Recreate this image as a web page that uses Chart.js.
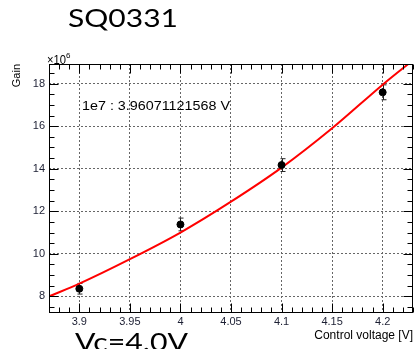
<!DOCTYPE html>
<html>
<head>
<meta charset="utf-8">
<script src="https://cdn.jsdelivr.net/npm/chart.js@4.4.0/dist/chart.umd.min.js"></script>
<style>
  html, body { margin: 0; padding: 0; background: #fff; }
  #wrap { position: relative; width: 418px; height: 349px; }
</style>
</head>
<body>
<div id="wrap"><canvas id="chart"></canvas></div>
<script>
// measured gain (units of 1e6) vs control voltage
var voltages = [3.9, 4.0, 4.1, 4.2];
var gains = [8.36, 11.38, 14.17, 17.59];
var gainErrors = [0.25, 0.3, 0.3, 0.35];

// fitted curve
var fitVoltages = [3.87, 3.9, 3.95, 4.0, 4.05, 4.1, 4.15, 4.2, 4.23];
var fitGains = [8.0, 8.6, 9.75, 11.0, 12.45, 14.05, 15.9, 17.95, 19.1];

var xTicks = [3.9, 3.95, 4, 4.05, 4.1, 4.15, 4.2];
var yTicks = [8, 10, 12, 14, 16, 18];

var labelColor = '#1c1f33';
var rootFont = '"Liberation Sans", Arial, sans-serif';

// draw text squeezed/stretched to a given width (the source image is stretched sideways)
function stretchedText(ctx, text, x, y, font, width) {
    ctx.save();
    ctx.font = font;
    var sx = width ? width / ctx.measureText(text).width : 1;
    ctx.translate(x, y);
    ctx.scale(sx, 1);
    ctx.textAlign = 'left';
    ctx.textBaseline = 'alphabetic';
    ctx.fillStyle = '#000';
    ctx.fillText(text, 0, 0);
    ctx.restore();
}

var errorBars = {
    id: 'errorBars',
    beforeDatasetsDraw: function (chart) {
        var ctx = chart.ctx, xs = chart.scales.x, ys = chart.scales.y;
        ctx.save();
        ctx.strokeStyle = '#222';
        ctx.lineWidth = 1;
        voltages.forEach(function (v, i) {
            var px = Math.round(xs.getPixelForValue(v)) + 0.5,
                top = ys.getPixelForValue(gains[i] + gainErrors[i]),
                bot = ys.getPixelForValue(gains[i] - gainErrors[i]);
            ctx.beginPath();
            ctx.moveTo(px, top);
            ctx.lineTo(px, bot);
            ctx.moveTo(px - 2, top);
            ctx.lineTo(px + 3, top);
            ctx.moveTo(px - 2, bot);
            ctx.lineTo(px + 3, bot);
            ctx.stroke();
        });
        ctx.restore();
    }
};

// ROOT style frame with inward ticks on all four sides
var frame = {
    id: 'frame',
    afterDraw: function (chart) {
        var ctx = chart.ctx, a = chart.chartArea, xs = chart.scales.x, ys = chart.scales.y;
        var l = Math.round(a.left) + 0.5, r = Math.round(a.right) - 0.5,
            t = Math.round(a.top) + 0.5, b = Math.round(a.bottom) - 0.5;
        ctx.save();
        ctx.setLineDash([]);
        ctx.strokeStyle = '#000';
        ctx.lineWidth = 1;
        ctx.strokeRect(l, t, r - l, b - t);

        ctx.beginPath();
        var i, v, p, len;
        // x ticks every 0.01, major every 0.05
        for (i = 387; i <= 423; i++) {
            v = i / 100;
            p = Math.round(xs.getPixelForValue(v)) + 0.5;
            len = (i % 5 === 0) ? 9 : 5;
            ctx.moveTo(p, b); ctx.lineTo(p, b - len);
            ctx.moveTo(p, t); ctx.lineTo(p, t + len);
        }
        // y ticks every 0.5, major every 2
        for (i = 15; i <= 37; i++) {
            v = i / 2;
            p = Math.round(ys.getPixelForValue(v)) + 0.5;
            len = (i % 4 === 0) ? 9 : 5;
            ctx.moveTo(l, p); ctx.lineTo(l + len, p);
            ctx.moveTo(r, p); ctx.lineTo(r - len, p);
        }
        ctx.stroke();

        // annotations
        stretchedText(ctx, 'SQ0331', 68, 27, '25px Lato', 110);
        stretchedText(ctx, 'Vc=4.0V', 75, 351, '25px Lato', 113);
        stretchedText(ctx, '1e7 : 3.96071121568 V', 82, 110, '13px ' + rootFont, 148);
        stretchedText(ctx, '\u00d710', 47, 63.5, '12px ' + rootFont, 19);
        stretchedText(ctx, '6', 66, 57.5, '8px ' + rootFont, 0);
        ctx.restore();
    }
};

var chart = new Chart(document.getElementById('chart'), {
    data: {
        datasets: [{
            type: 'line',
            data: fitVoltages.map(function (v, i) { return { x: v, y: fitGains[i] }; }),
            borderColor: '#ff0000',
            borderWidth: 2,
            pointRadius: 0,
            cubicInterpolationMode: 'monotone',
            fill: false,
            order: 2
        }, {
            type: 'scatter',
            data: voltages.map(function (v, i) { return { x: v, y: gains[i] }; }),
            backgroundColor: '#000',
            borderColor: '#000',
            pointRadius: 3.5,
            order: 1
        }]
    },
    options: {
        responsive: true,
        maintainAspectRatio: false,
        animation: false,
        layout: { padding: { top: 64, right: 5, left: 0, bottom: 0 } },
        plugins: {
            legend: { display: false },
            tooltip: { enabled: false }
        },
        scales: {
            x: {
                type: 'linear',
                min: 3.87,
                max: 4.23,
                afterBuildTicks: function (scale) {
                    scale.ticks = xTicks.map(function (v) { return { value: v }; });
                },
                afterFit: function (scale) { scale.height = 36; },
                grid: { drawTicks: false, color: '#666', lineWidth: 1 },
                border: { display: false, dash: [2, 2] },
                ticks: {
                    padding: 2,
                    maxRotation: 0,
                    autoSkip: false,
                    color: labelColor,
                    font: { family: rootFont, size: 11 },
                    callback: function (v) { return String(+Number(v).toFixed(2)); }
                },
                title: {
                    display: true,
                    text: 'Control voltage [V]',
                    align: 'end',
                    color: '#000',
                    font: { family: rootFont, size: 12 },
                    padding: { top: 0, bottom: 6 }
                }
            },
            y: {
                type: 'linear',
                min: 7.22,
                max: 18.92,
                afterBuildTicks: function (scale) {
                    scale.ticks = yTicks.map(function (v) { return { value: v }; });
                },
                afterFit: function (scale) { scale.width = 49; },
                grid: { drawTicks: false, color: '#666', lineWidth: 1 },
                border: { display: false, dash: [2, 2] },
                ticks: {
                    padding: 4,
                    autoSkip: false,
                    color: labelColor,
                    font: { family: rootFont, size: 11 },
                    callback: function (v) { return String(v); }
                },
                title: {
                    display: true,
                    text: 'Gain',
                    align: 'end',
                    color: '#000',
                    font: { family: rootFont, size: 11 },
                    padding: { top: 10, bottom: 0 }
                }
            }
        }
    },
    plugins: [errorBars, frame]
});
</script>
</body>
</html>
